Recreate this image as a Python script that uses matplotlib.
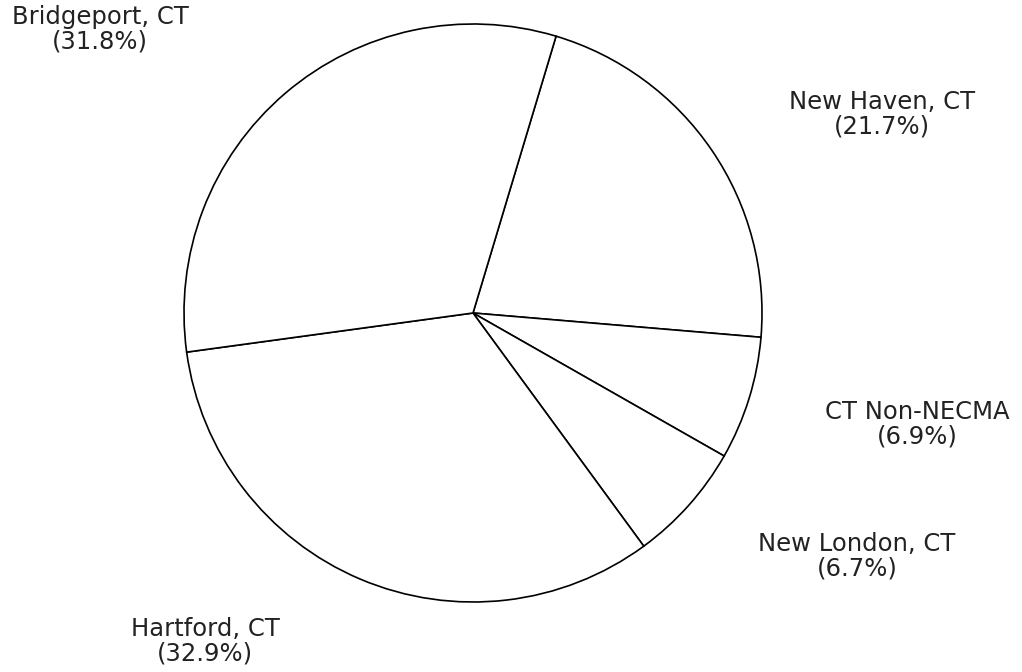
import matplotlib.pyplot as plt

# slice data (clockwise from the top)
regions = ["New Haven, CT", "CT Non-NECMA", "New London, CT", "Hartford, CT", "Bridgeport, CT"]
shares = [21.7, 6.9, 6.7, 32.9, 31.8]

# label centres in pixel space (x from left, y from bottom)
label_xy = [(882, 558), (917, 248), (857, 116), (205, 31), (100, 643)]

fig = plt.figure(figsize=(10.22, 6.72), dpi=100)
ax = fig.add_axes([0, 0, 1, 1])

ax.pie(shares, startangle=73.3, counterclock=False, center=(473, 359), radius=289,
       colors=["white"] * len(shares),
       wedgeprops=dict(edgecolor="black", linewidth=1.2))

for name, val, (x, y) in zip(regions, shares, label_xy):
    ax.text(x, y, name + "\n(" + format(val, ".1f") + "%)", ha="center", va="center",
            family="DejaVu Sans", fontsize=17.5, color="#222222", linespacing=1.05)

ax.set_xlim(0, 1022)
ax.set_ylim(0, 672)
ax.set_aspect("equal")
ax.axis("off")

fig.savefig("out.png", dpi=100, facecolor="white")
